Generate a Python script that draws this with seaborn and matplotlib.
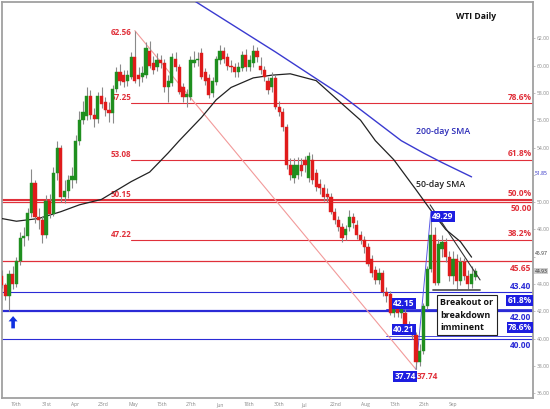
import numpy as np
import pandas as pd
import matplotlib
matplotlib.use("Agg")
import matplotlib.pyplot as plt
import seaborn as sns

sns.set_theme(style="white")
plt.rcParams['font.family'] = ['Open Sans', 'DejaVu Sans']

# ---- daily OHLC ----
opens = [44.6, 43.9, 43.1, 44.7, 44.0, 45.7, 47.4, 47.5, 49.2, 51.4,
         48.9, 48.7, 47.6, 50.1, 49.1, 52.1, 54.0, 50.4, 50.8, 51.6,
         51.6, 54.5, 56.0, 56.3, 57.8, 56.4, 56.1, 57.8, 57.3, 56.75,
         56.5, 58.3, 59.5, 59.3, 58.9, 59.2, 60.6, 59.3, 59.16, 59.3,
         61.1, 60.2, 59.9, 60.4, 60.2, 58.4, 58.7, 60.5, 59.9, 58.4,
         57.7, 57.7, 60.2, 60.4, 60.9, 59.5, 59.1, 58.0, 58.8, 60.4,
         61.1, 60.6, 60.0, 59.9, 59.5, 59.8, 60.8, 59.9, 60.2, 61.1,
         60.0, 59.7, 58.9, 58.4, 59.1, 57.0, 56.6, 55.5, 52.7, 51.8,
         52.0, 52.7, 53.1, 51.8, 53.1, 52.1, 51.3, 51.0, 50.6, 50.4,
         49.3, 48.7, 48.2, 47.6, 48.2, 48.9, 48.3, 47.6, 47.2, 46.7,
         45.8, 45.0, 44.3, 44.8, 43.4, 43.3, 41.9, 42.5, 41.9, 41.9,
         41.0, 40.7, 40.3, 38.3, 39.1, 42.4, 45.1, 47.6, 44.1, 46.6,
         47.1, 46.0, 44.6, 45.8, 44.2, 45.6, 44.6, 44.0, 44.5]
highs = [45.0, 44.1, 45.0, 45.3, 46.0, 47.8, 48.2, 49.6, 52.4, 51.6,
         49.6, 49.0, 50.5, 50.6, 52.6, 54.5, 54.2, 51.6, 52.0, 52.6,
         54.9, 56.7, 57.4, 58.4, 58.2, 56.9, 58.1, 58.4, 57.7, 57.3,
         58.6, 59.9, 60.1, 59.7, 59.7, 61.0, 62.56, 59.9, 60.0, 61.7,
         61.8, 60.7, 60.9, 60.8, 60.5, 59.3, 60.9, 61.0, 60.1, 58.7,
         58.3, 60.7, 61.1, 61.0, 61.3, 59.8, 59.4, 59.2, 60.7, 61.5,
         61.4, 60.9, 60.4, 60.2, 60.3, 61.1, 61.2, 60.8, 61.5, 61.4,
         60.6, 60.0, 59.2, 59.5, 59.3, 57.4, 56.9, 55.7, 53.2, 53.2,
         53.3, 53.2, 53.4, 53.7, 53.5, 52.4, 51.7, 51.3, 51.0, 50.7,
         49.6, 49.0, 48.5, 48.3, 49.4, 49.2, 48.7, 47.9, 47.5, 47.0,
         46.1, 45.3, 45.2, 45.0, 43.8, 43.5, 42.9, 42.8, 42.7, 42.2,
         41.3, 40.9, 40.5, 39.6, 42.6, 45.3, 49.29, 48.2, 47.3, 47.6,
         47.4, 46.4, 46.4, 46.2, 46.0, 45.9, 45.0, 45.3, 45.2]
lows = [43.7, 42.8, 42.0, 43.6, 43.8, 45.4, 46.8, 47.2, 48.9, 48.5,
        48.0, 47.0, 47.4, 48.8, 49.0, 51.6, 50.0, 49.9, 50.3, 51.0,
        51.4, 54.2, 55.7, 56.0, 56.1, 55.5, 55.8, 56.9, 56.3, 55.9,
        55.8, 58.1, 58.6, 58.4, 58.5, 59.0, 58.7, 58.5, 58.8, 59.1,
        59.8, 59.4, 59.6, 59.8, 58.1, 57.3, 58.5, 59.6, 57.9, 57.3,
        57.0, 57.5, 59.9, 60.0, 59.0, 58.6, 57.6, 57.7, 58.6, 60.1,
        60.2, 59.7, 59.5, 59.2, 59.2, 59.6, 59.6, 59.6, 59.9, 60.3,
        59.4, 58.9, 57.9, 58.1, 56.8, 56.3, 55.2, 52.4, 51.6, 51.4,
        51.7, 51.9, 52.2, 51.5, 51.3, 50.8, 50.6, 50.1, 50.0, 49.1,
        48.4, 47.9, 47.1, 47.2, 47.9, 48.1, 47.3, 46.9, 46.3, 45.3,
        44.5, 44.0, 44.0, 43.1, 42.7, 41.7, 41.6, 41.6, 41.5, 40.7,
        40.4, 40.0, 37.74, 38.0, 38.9, 42.2, 44.9, 43.9, 43.9, 46.0,
        45.6, 44.2, 44.0, 43.6, 43.9, 44.3, 43.6, 43.7, 44.3]
closes = [43.9, 43.1, 44.7, 44.0, 45.7, 47.4, 47.5, 49.2, 51.4, 48.9,
          48.7, 47.6, 50.1, 49.1, 52.1, 54.0, 50.4, 50.8, 51.6, 51.9,
          54.5, 56.0, 56.6, 57.8, 56.4, 56.1, 57.8, 57.2, 56.75, 56.5,
          58.3, 59.5, 58.9, 58.8, 59.3, 60.6, 58.9, 59.0, 59.46, 61.3,
          60.0, 59.7, 60.4, 60.2, 58.4, 58.9, 60.6, 59.9, 58.1, 57.7,
          57.9, 60.4, 60.4, 60.5, 59.2, 58.9, 57.85, 58.9, 60.5, 61.1,
          60.5, 60.0, 59.9, 59.5, 59.9, 60.8, 59.9, 60.4, 61.1, 60.6,
          59.7, 59.2, 58.2, 59.1, 57.0, 56.6, 55.5, 52.7, 52.0, 52.7,
          52.7, 52.3, 52.7, 53.4, 51.6, 51.1, 51.0, 50.4, 50.4, 49.3,
          48.7, 48.2, 47.4, 48.0, 48.9, 48.5, 47.6, 47.2, 46.7, 45.5,
          44.8, 44.3, 44.8, 43.4, 43.1, 41.9, 42.5, 41.9, 42.3, 41.0,
          40.7, 40.3, 38.3, 39.1, 42.4, 45.1, 47.6, 44.1, 46.9, 47.1,
          46.0, 44.6, 45.8, 44.2, 45.6, 44.6, 44.0, 44.7, 44.93]

# ---- moving averages ----
sma50_day = [0, 4, 10, 16, 21, 27, 35, 40, 45, 48, 54, 58, 62, 68, 73, 78,
             85, 92, 97, 101, 106, 112, 116, 120, 124, 127]
sma50_val = [48.8, 48.6, 48.8, 49.3, 49.8, 50.2, 51.5, 52.2, 53.6, 54.5,
             56.2, 57.5, 58.4, 59.1, 59.3, 59.4, 58.9, 57.2, 56.0, 54.5,
             53.1, 50.9, 49.4, 48.0, 47.1, 45.97]
sma200_day = [50, 74, 92, 108, 114, 119, 127]
sma200_val = [65.1, 61.0, 57.8, 54.5, 53.6, 52.9, 51.85]

# ---- levels ----
red_fib_values = [57.25, 53.08, 50.15, 47.22]
red_fib_labels = ["78.6%", "61.8%", "50.0%", "38.2%"]
blue_fib_values = [42.15, 40.21]
blue_fib_labels = ["61.8%", "78.6%"]
red_levels = [50.00, 45.65]
blue_levels = [43.40, 42.00, 40.00]
swing_high, swing_low, bounce_high = 62.56, 37.74, 49.29
sma200_last, sma50_last, last_price = 51.85, 45.97, 44.93

# ---- axis labels ----
date_labels = ["19th", "31st", "Apr", "23rd", "May", "15th", "27th", "Jun",
               "18th", "30th", "Jul", "22nd", "Aug", "13th", "25th", "Sep"]
date_pos = [3.9, 12.3, 19.8, 27.4, 35.5, 43.4, 51.2, 59.0, 66.9, 75.0,
            81.8, 90.4, 98.2, 106.3, 114.2, 122.0]
price_ticks = [36, 38, 40, 42, 44, 46, 48, 50, 52, 54, 56, 58, 60, 62]
hidden_ticks = [46, 52]

RED = "#e0303a"
BLUE = "#2b2bd6"
GREEN_C = "#1f8f1f"
RED_C = "#e01b1b"
BOXBLUE = "#1d1de0"

df = pd.DataFrame({"day": np.arange(len(closes)), "open": opens, "high": highs,
                   "low": lows, "close": closes})
df["up"] = df["close"] >= df["open"]

fig = plt.figure(figsize=(5.5, 4.09), dpi=100)
ax = fig.add_axes([2 / 550, 11 / 409, 531 / 550, 396 / 409])
ax.set_xlim(0.1, 143.6)
ax.set_ylim(35.65, 64.66)

x_end = 143.6
fib_start = 35.0

# horizontal levels
for v in red_fib_values:
    lw = 1.5 if v == 50.15 else 0.8
    start = 0.1 if v == 50.15 else fib_start
    ax.plot([start, x_end], [v, v], color=RED, lw=lw, zorder=1)
for v in red_levels:
    ax.plot([0.1, x_end], [v, v], color=RED, lw=0.9, zorder=1)
for v in blue_levels:
    lw = 1.6 if v == 42.00 else 0.8
    ax.plot([0.1, x_end], [v, v], color=BLUE, lw=lw, zorder=1)
for v in blue_fib_values:
    ax.plot([104, x_end], [v, v], color=BLUE, lw=0.6, zorder=1)

# swing lines
i_hi = int(np.argmax(highs))
i_lo = int(np.argmin(lows))
i_bh = i_lo + int(np.argmax(highs[i_lo:]))
ax.plot([i_hi, i_lo], [swing_high, swing_low], color="#f29a9a", lw=0.8, zorder=1)
ax.plot([i_lo, i_bh], [swing_low, bounce_high], color="#5a5ae6", lw=0.7, zorder=1)

# moving averages
sns.lineplot(x=sma200_day, y=sma200_val, ax=ax, color="#3a3ad0", lw=1.0, zorder=3)
sns.lineplot(x=sma50_day, y=sma50_val, ax=ax, color="#222222", lw=0.9, zorder=3)

# candles
width = 0.86
for up, color in [(True, GREEN_C), (False, RED_C)]:
    sub = df[df["up"] == up]
    ax.vlines(sub["day"], sub["low"], sub["high"], color="#8a8a8a", lw=0.8, zorder=4)
    bottom = np.minimum(sub["open"], sub["close"])
    height = np.maximum(np.abs(sub["close"] - sub["open"]), 0.06)
    ax.bar(sub["day"], height, bottom=bottom, width=width, color=color,
           edgecolor=color, lw=0.3, zorder=5)

# trend lines on the latest swing
ax.plot([115.8, 129.3], [49.8, 44.3], color="#333333", lw=0.8, zorder=6)
ax.plot([116.6, 129.3], [43.55, 43.55], color="#555555", lw=1.3, zorder=6)

# left labels of red retracements
lab = dict(color=RED, fontsize=5.8, fontweight="bold", ha="right", va="bottom")
ax.text(35.0, swing_high - 0.45, f"{swing_high:.2f}", **lab, zorder=2)
for v in red_fib_values:
    ax.text(35.0, v + 0.1, f"{v:.2f}", **lab, zorder=2)

# right labels
rlab = dict(fontsize=6.0, fontweight="bold", ha="right")
for v, t in zip(red_fib_values, red_fib_labels):
    ax.text(143.2, v + 0.12, t, color=RED, va="bottom", **rlab)
ax.text(143.2, 50.00 - 0.15, "50.00", color=RED, va="top", **rlab)
ax.text(143.2, 45.65 - 0.15, "45.65", color=RED, va="top", **rlab)
ax.text(143.2, 43.40 + 0.12, "43.40", color=BLUE, va="bottom", **rlab)
ax.text(143.2, 42.00 - 0.15, "42.00", color=BLUE, va="top", **rlab)
ax.text(143.2, 40.00 - 0.15, "40.00", color=BLUE, va="top", **rlab)
box = dict(boxstyle="square,pad=0.12", fc=BOXBLUE, ec="none")
for v, t in zip(blue_fib_values, blue_fib_labels):
    ax.text(143.2, v + 0.28, t, color="white", va="bottom", bbox=box, **rlab)

# swing value boxes
blab = dict(color="white", fontsize=6.0, fontweight="bold", bbox=box)
ax.text(i_bh + 0.4, bounce_high - 0.35, f"{bounce_high:.2f}", ha="left", va="center", **blab, zorder=8)
for v in blue_fib_values:
    ax.text(111.6, v + 0.45, f"{v:.2f}", ha="right", va="center", **blab, zorder=8)
ax.text(i_lo - 0.1, swing_low - 0.2, f"{swing_low:.2f}", ha="right", va="top", **blab, zorder=8)
ax.text(i_lo + 0.2, swing_low - 0.2, f"{swing_low:.2f}", ha="left", va="top",
        color=RED, fontsize=6.0, fontweight="bold", zorder=8)

# annotations
ax.text(133.5, 63.6, "WTI Daily", fontsize=6.2, fontweight="bold", color="#111111",
        ha="right", va="center")
ax.text(112.0, 55.2, "200-day SMA", fontsize=6.3, fontweight="semibold",
        color="#2b2bb8", ha="left", va="center")
ax.text(112.0, 51.3, "50-day SMA", fontsize=6.3, fontweight="semibold",
        color="#222222", ha="left", va="center")
ax.text(118.6, 42.95, "Breakout or\nbreakdown\nimminent", fontsize=6.4, fontweight="bold",
        color="#111111", ha="left", va="top", linespacing=1.45, zorder=9,
        bbox=dict(boxstyle="square,pad=0.35", fc="white", ec="#222222", lw=0.8))
ax.annotate("", xy=(3.1, 41.65), xytext=(3.1, 40.75),
            arrowprops=dict(facecolor="#1030e0", edgecolor="none", width=2.6,
                            headwidth=6.5, headlength=3.8), zorder=9)

# axes styling
ax.yaxis.tick_right()
ax.set_yticks(price_ticks)
ax.set_yticklabels(["" if t in hidden_ticks else f"{t:.2f}" for t in price_ticks],
                   fontsize=3.6, color="#888888")
ax.set_xticks(date_pos)
ax.set_xticklabels(date_labels, fontsize=3.6, color="#888888")
ax.tick_params(axis="both", length=1.5, width=0.5, color="#aaaaaa", pad=1.5)
for s in ax.spines.values():
    s.set_color("#a0a0a0")
    s.set_linewidth(1.3)
ax.set_xlabel("")
ax.set_ylabel("")

# current values on the price scale
ytr = ax.get_yaxis_transform()
ax.text(1.003, 52.1, f"{sma200_last:.2f}", transform=ytr, fontsize=3.6,
        color="#2020c0", va="center", ha="left")
ax.text(1.003, 46.25, f"{sma50_last:.2f}", transform=ytr, fontsize=3.6,
        color="#222222", va="center", ha="left")
ax.text(1.003, last_price, f"{last_price:.2f}", transform=ytr,
        fontsize=3.6, color="#222222", va="center", ha="left",
        bbox=dict(boxstyle="square,pad=0.1", fc="#cfcfcf", ec="none"))

fig.savefig("out.png", dpi=100)
